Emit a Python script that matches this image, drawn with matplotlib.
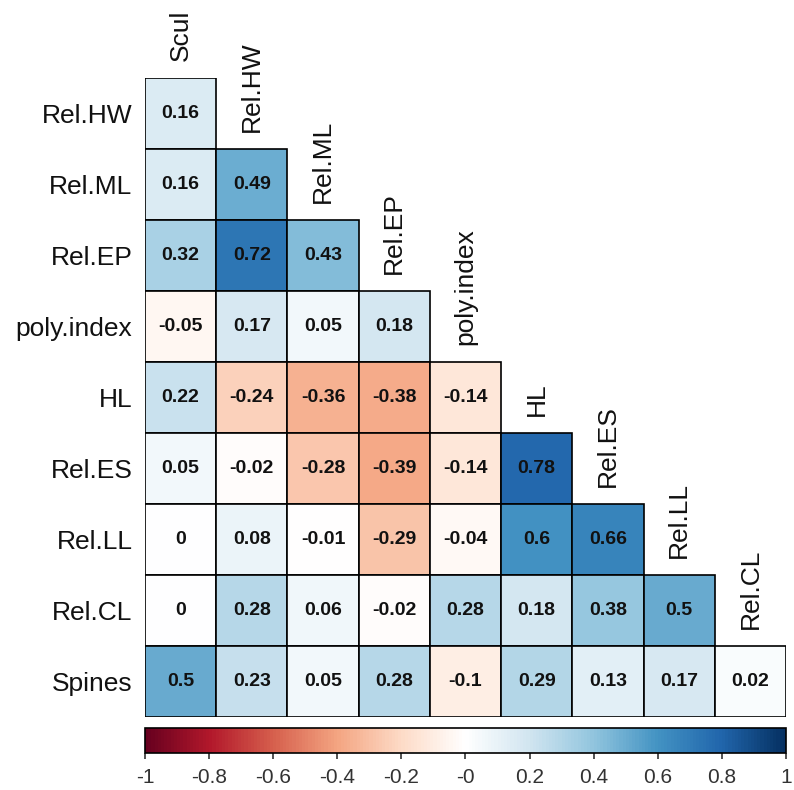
import matplotlib
matplotlib.use('Agg')
import matplotlib.pyplot as plt
import numpy as np
from matplotlib.colors import LinearSegmentedColormap, Normalize
from matplotlib.cm import ScalarMappable
from matplotlib.patches import Rectangle

names = ['Scul', 'Rel.HW', 'Rel.ML', 'Rel.EP', 'poly.index', 'HL',
         'Rel.ES', 'Rel.LL', 'Rel.CL', 'Spines']
row_names = names[1:]
col_names = names[:-1]

# lower triangle, row by row
r_relhw = [0.16]
r_relml = [0.16, 0.49]
r_relep = [0.32, 0.72, 0.43]
r_poly = [-0.05, 0.17, 0.05, 0.18]
r_hl = [0.22, -0.24, -0.36, -0.38, -0.14]
r_reles = [0.05, -0.02, -0.28, -0.39, -0.14, 0.78]
r_relll = [0, 0.08, -0.01, -0.29, -0.04, 0.6, 0.66]
r_relcl = [0, 0.28, 0.06, -0.02, 0.28, 0.18, 0.38, 0.5]
r_spines = [0.5, 0.23, 0.05, 0.28, -0.1, 0.29, 0.13, 0.17, 0.02]
rows = [r_relhw, r_relml, r_relep, r_poly, r_hl, r_reles, r_relll, r_relcl, r_spines]

# corrplot-style RdBu palette (white in the middle)
pal = ["#67001F", "#B2182B", "#D6604D", "#F4A582", "#FDDBC7", "#FFFFFF",
       "#D1E5F0", "#92C5DE", "#4393C3", "#2166AC", "#053061"]
cmap = LinearSegmentedColormap.from_list('rdbu_cp', pal, N=200)
norm = Normalize(vmin=-1, vmax=1)

plt.rcParams['font.family'] = ['Liberation Sans', 'DejaVu Sans']

n = len(row_names)
fig = plt.figure(figsize=(7.94, 7.90), dpi=100)
ax = fig.add_axes([145 / 794, 1 - 717 / 790, 641 / 794, 639 / 790])

for i, r in enumerate(rows):
    for j, v in enumerate(r):
        ax.add_patch(Rectangle((j - 0.5, i - 0.5), 1, 1, facecolor=cmap(norm(v)),
                               edgecolor='black', linewidth=1.2))
        ax.text(j, i, f'{v:g}', ha='center', va='center', fontsize=14,
                fontweight='bold', color='#111111')

ax.set_xlim(-0.5, n - 0.5)
ax.set_ylim(n - 0.5, -0.5)
for s in ax.spines.values():
    s.set_visible(False)
ax.set_xticks([])
ax.set_yticks(range(n))
ax.set_yticklabels(row_names, fontsize=19, color='#111111')
ax.tick_params(axis='y', length=0, pad=9)

for j, c in enumerate(col_names):
    ax.annotate(c, xy=(j, j - 0.5), xytext=(0, 12), textcoords='offset points',
                rotation=90, ha='center', va='bottom', fontsize=19,
                color='#111111', annotation_clip=False)

cax = fig.add_axes([145 / 794, 1 - 753 / 790, 641 / 794, 25 / 790])
sm = ScalarMappable(norm=norm, cmap=cmap)
cb = fig.colorbar(sm, cax=cax, orientation='horizontal')
ticks = np.round(np.arange(-1, 1.01, 0.2), 1)
cb.set_ticks(ticks)
cb.set_ticklabels([f'{t:g}' for t in ticks])
cax.tick_params(labelsize=15, length=4, width=1.2, pad=7, colors='#333333')
cb.outline.set_linewidth(1.2)

fig.savefig('out.png', dpi=100)
